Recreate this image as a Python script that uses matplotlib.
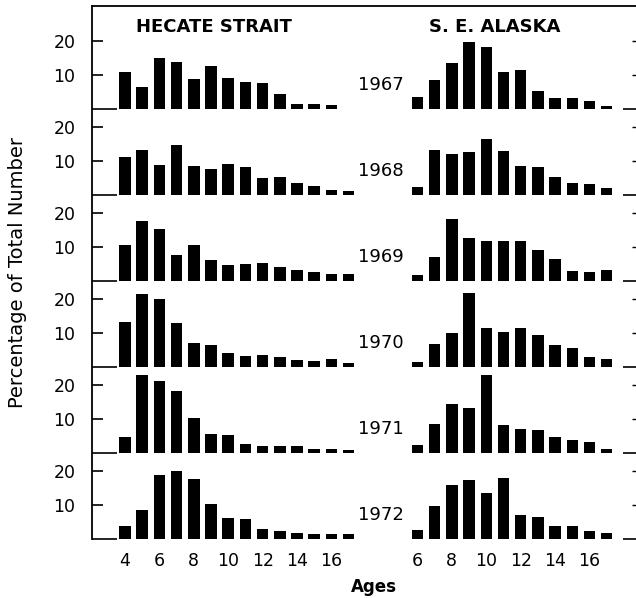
import matplotlib
matplotlib.use("Agg")
import matplotlib.pyplot as plt
import numpy as np

# años y edades
years = ["1967", "1968", "1969", "1970", "1971", "1972"]
ages_hecate = np.arange(4, 18)   # 4..17
ages_alaska = np.arange(6, 18)   # 6..17

# porcentaje del total, Hecate Strait (edades 4-17)
hecate_1967 = [10.8, 6.4, 15.1, 13.8, 8.8, 12.7, 9.1, 7.8, 7.5, 4.3, 1.3, 1.3, 1.1, 0.0]
hecate_1968 = [11.1, 13.2, 8.8, 14.8, 8.6, 7.5, 9.1, 8.3, 5.1, 5.2, 3.5, 2.5, 1.5, 1.3]
hecate_1969 = [10.7, 17.6, 15.3, 7.5, 10.7, 6.3, 4.6, 5.0, 5.3, 4.2, 3.1, 2.5, 2.0, 1.9]
hecate_1970 = [13.3, 21.4, 20.1, 12.8, 7.0, 6.4, 4.1, 3.2, 3.4, 2.9, 2.1, 1.8, 2.3, 1.3]
hecate_1971 = [4.7, 23.0, 21.2, 18.1, 10.3, 5.7, 5.3, 2.5, 2.0, 2.1, 2.0, 1.2, 1.1, 1.0]
hecate_1972 = [3.7, 8.4, 18.7, 20.1, 17.6, 10.3, 6.2, 6.0, 2.9, 2.5, 1.8, 1.6, 1.4, 1.6]

# porcentaje del total, S.E. Alaska (edades 6-17)
alaska_1967 = [3.6, 8.5, 13.6, 19.8, 18.3, 11.0, 11.3, 5.4, 3.1, 3.1, 2.2, 0.9]
alaska_1968 = [2.3, 13.2, 12.0, 12.5, 16.5, 12.9, 8.5, 8.3, 5.2, 3.6, 3.2, 2.0]
alaska_1969 = [1.7, 7.1, 18.1, 12.7, 11.7, 11.8, 11.7, 9.0, 6.5, 2.8, 2.6, 3.1]
alaska_1970 = [1.5, 6.7, 10.1, 21.9, 11.6, 10.4, 11.6, 9.3, 6.4, 5.5, 2.9, 2.2]
alaska_1971 = [2.3, 8.6, 14.3, 13.2, 23.0, 8.1, 7.2, 6.9, 4.7, 3.7, 3.2, 1.3]
alaska_1972 = [2.7, 9.6, 16.0, 17.5, 13.5, 17.8, 7.0, 6.5, 3.9, 3.9, 2.3, 1.8]

hecate = [hecate_1967, hecate_1968, hecate_1969, hecate_1970, hecate_1971, hecate_1972]
alaska = [alaska_1967, alaska_1968, alaska_1969, alaska_1970, alaska_1971, alaska_1972]

xtick_hecate = [4, 6, 8, 10, 12, 14, 16]
xtick_alaska = [6, 8, 10, 12, 14, 16]

# disposición: un solo eje, filas apiladas
row_h = 25.3      # altura de cada fila en unidades de %
shift = 15        # desplazamiento horizontal del panel derecho
bar_w = 0.67

plt.rcParams['font.family'] = 'DejaVu Sans'

fig = plt.figure(figsize=(6.36, 5.98), dpi=100)
ax = fig.add_axes([92/636, 59/598, 546/636, 533/598])

n = len(years)
for i in range(n):
    base = (n - 1 - i) * row_h
    ax.bar(ages_hecate, hecate[i], width=bar_w, bottom=base, color='black', clip_on=False)
    ax.bar(ages_alaska + shift, alaska[i], width=bar_w, bottom=base, color='black', clip_on=False)
    ax.text(18.85, base + 7, years[i], ha='center', va='center', fontsize=13)

ax.set_xlim(2.08, 33.82)
ax.set_ylim(0, 533/3.4)

# ticks del eje y: 10 y 20 en cada fila, línea base como tick menor
bases = [(n - 1 - i) * row_h for i in range(n)]
major = []
labels = []
for b in bases:
    major += [b + 10, b + 20]
    labels += ['10', '20']
ax.set_yticks(major)
ax.set_yticklabels(labels, fontsize=12.5)
ax.set_yticks(bases, minor=True)
ax.tick_params(axis='y', which='major', direction='in', length=8, width=1.2, pad=12)
ax.tick_params(axis='y', which='minor', direction='in', length=18, width=1.2)

# lado derecho (el borde queda fuera de la imagen)
sec = ax.secondary_yaxis('right')
sec.set_yticks(major)
sec.set_yticks(bases, minor=True)
sec.tick_params(which='major', direction='in', length=4, width=1.0, labelright=False)
sec.tick_params(which='minor', direction='in', length=11, width=1.2, labelright=False)
sec.spines['right'].set_visible(False)

ax.set_xticks(list(xtick_hecate) + [a + shift for a in xtick_alaska])
ax.set_xticklabels([str(a) for a in xtick_hecate] + [str(a) for a in xtick_alaska], fontsize=12.5)
ax.tick_params(axis='x', length=0, pad=9)

for side in ['bottom', 'right']:
    ax.spines[side].set_visible(False)
ax.spines['left'].set_linewidth(1.3)
ax.spines['top'].set_linewidth(1.3)

ax.set_ylabel('Percentage of Total Number', fontsize=14)
ax.yaxis.set_label_coords(-65/546, 0.5)

fig.text(214/636, 1 - 27/598, 'HECATE STRAIT', ha='center', va='center', fontsize=13, fontweight='bold')
fig.text(495/636, 1 - 27/598, 'S. E. ALASKA', ha='center', va='center', fontsize=13, fontweight='bold')
fig.text(374/636, 1 - 587/598, 'Ages', ha='center', va='center', fontsize=12, fontweight='bold')

plt.savefig('out.png', dpi=100)
